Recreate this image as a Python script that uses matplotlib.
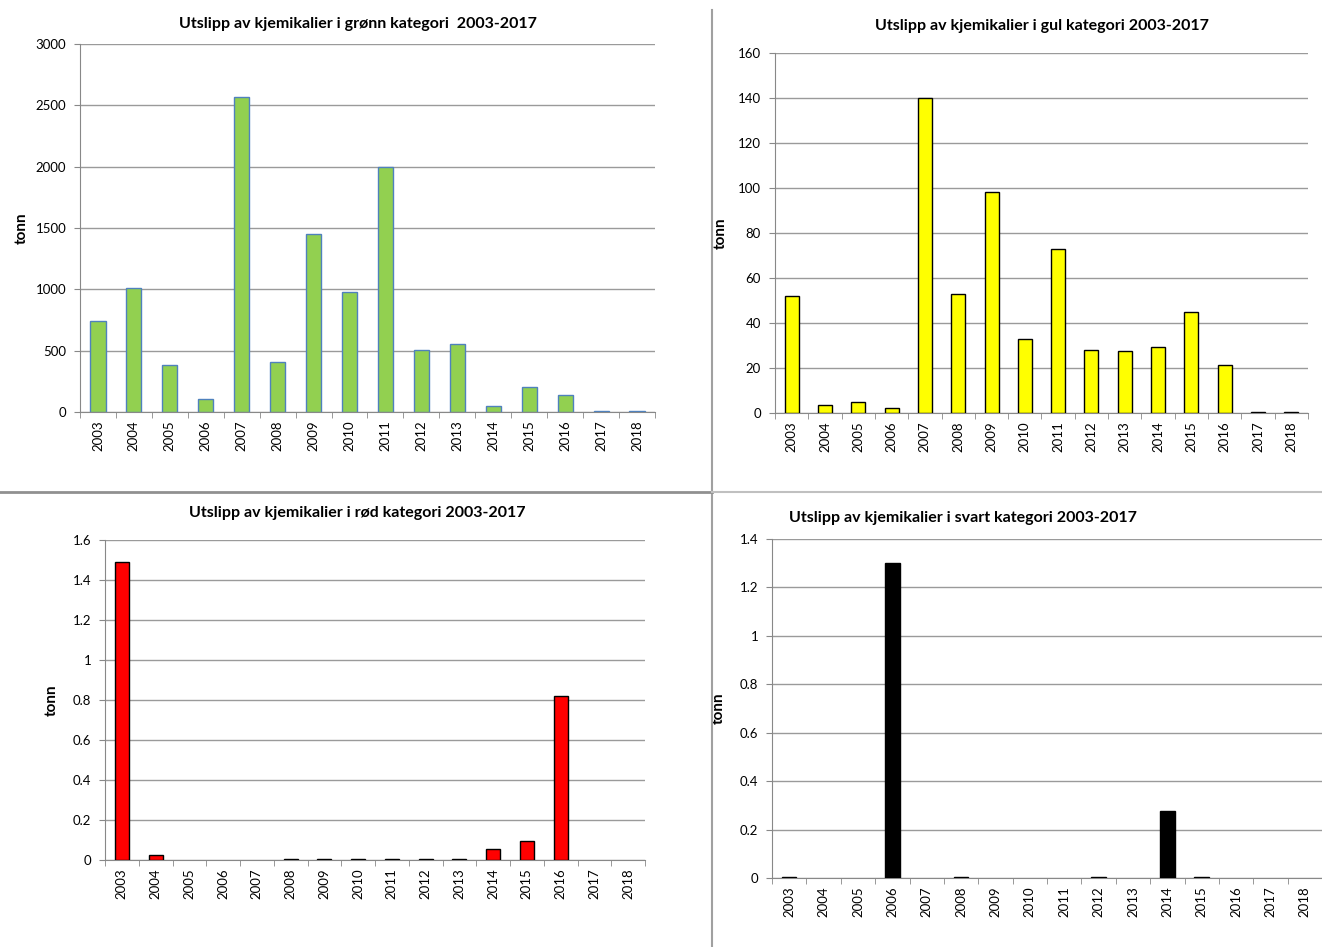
import matplotlib.pyplot as plt
import numpy as np
from matplotlib.lines import Line2D

plt.rcParams['font.family'] = ['Lato', 'DejaVu Sans']

# years on the x axis
years = [str(y) for y in range(2003, 2019)]

# tonn per year
gronn = [745, 1010, 385, 105, 2565, 410, 1450, 980, 2000, 505, 555, 50, 205, 140, 5, 5]
gul = [52, 3.5, 5, 2, 140, 53, 98, 33, 73, 28, 27.5, 29.5, 45, 21.5, 0.5, 0.5]
rod = [1.49, 0.025, 0, 0, 0, 0.005, 0.005, 0.005, 0.005, 0.005, 0.005, 0.055, 0.095, 0.82, 0, 0]
svart = [0.005, 0, 0, 1.3, 0, 0.005, 0, 0, 0, 0.005, 0, 0.275, 0.005, 0, 0, 0]

titles = ['Utslipp av kjemikalier i grønn kategori  2003-2017',
          'Utslipp av kjemikalier i gul kategori 2003-2017',
          'Utslipp av kjemikalier i rød kategori 2003-2017',
          'Utslipp av kjemikalier i svart kategori 2003-2017']

W, H = 1322, 947
fig = plt.figure(figsize=(W / 100, H / 100), dpi=100)


def px_axes(left, top, right, bottom):
    return fig.add_axes([left / W, 1 - bottom / H, (right - left) / W, (bottom - top) / H])


def draw(ax, values, face, edge, ymax, ystep, fmt):
    x = np.arange(len(years))
    # no outline on empty years, like the Excel original
    lw = [1 if v > 0 else 0 for v in values]
    ax.bar(x, values, width=0.42, color=face, edgecolor=edge, linewidth=lw, zorder=3)
    ax.set_xlim(-0.5, len(years) - 0.5)
    ax.set_ylim(0, ymax)
    yt = np.arange(0, ymax + ystep / 2, ystep)
    ax.set_yticks(yt)
    ax.set_yticklabels([fmt(v) for v in yt], fontsize=9.5)
    ax.set_xticks(x)
    ax.set_xticklabels(years, rotation=90, fontsize=9.5)
    ax.tick_params(axis='x', which='major', length=0, pad=6)
    ax.set_xticks(np.arange(-0.5, len(years), 1), minor=True)
    ax.tick_params(axis='x', which='minor', length=4, color='#888888')
    ax.tick_params(axis='y', length=4, color='#888888', pad=6)
    ax.grid(axis='y', color='#9a9a9a', linewidth=1, zorder=0)
    for s in ['top', 'right']:
        ax.spines[s].set_visible(False)
    for s in ['left', 'bottom']:
        ax.spines[s].set_color('#888888')
    ax.set_ylabel('tonn', fontsize=11, fontweight='bold')


def g_fmt(v):
    return '%g' % round(v, 2)


ax1 = px_axes(80, 44, 655, 412)
draw(ax1, gronn, '#92d050', '#4f81bd', 3000, 500, g_fmt)
ax1.yaxis.set_label_coords(-0.09, 0.5)

ax2 = px_axes(775, 53, 1308, 413)
draw(ax2, gul, '#ffff00', 'black', 160, 20, g_fmt)
ax2.yaxis.set_label_coords(-0.088, 0.5)

ax3 = px_axes(105, 540, 645, 860)
draw(ax3, rod, '#ff0000', 'black', 1.6, 0.2, g_fmt)
ax3.yaxis.set_label_coords(-0.085, 0.5)

ax4 = px_axes(772, 539, 1322, 878)
draw(ax4, svart, 'black', 'black', 1.4, 0.2, g_fmt)
ax4.yaxis.set_label_coords(-0.085, 0.5)

# titles placed like in the source sheet
tkw = dict(ha='center', va='center', fontsize=11.5, fontweight='bold')
fig.text(358 / W, 1 - 24 / H, titles[0], **tkw)
fig.text(1042 / W, 1 - 26 / H, titles[1], **tkw)
fig.text(357 / W, 1 - 513 / H, titles[2], **tkw)
fig.text(963 / W, 1 - 518 / H, titles[3], **tkw)

# separator lines between the four panels
fig.add_artist(Line2D([712 / W, 712 / W], [0, 1 - 10 / H], color='#a0a0a0', linewidth=1.5))
fig.add_artist(Line2D([0, 712 / W], [1 - 492 / H, 1 - 492 / H], color='#909090', linewidth=2))
fig.add_artist(Line2D([712 / W, 1], [1 - 492 / H, 1 - 492 / H], color='#c0c0c0', linewidth=1.5))

fig.savefig('out.png', dpi=100)
